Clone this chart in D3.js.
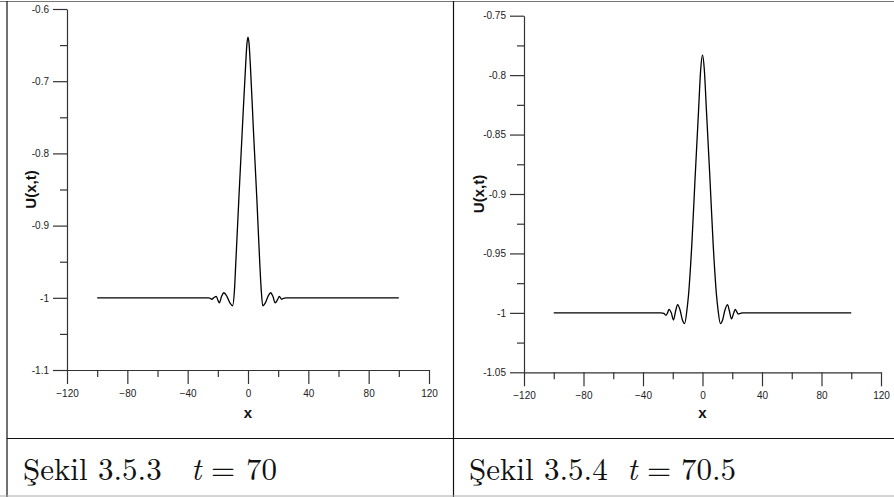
<!DOCTYPE html>
<html><head><meta charset="utf-8">
<script src="https://cdn.jsdelivr.net/npm/d3@7"></script>
<style>
html,body{margin:0;padding:0;background:#fff;}
svg{display:block;}
.tick text{font-family:"Liberation Sans",Arial,sans-serif;font-size:10px;fill:#222;}
</style></head>
<body>
<svg id="c" width="894" height="497"></svg>
<script>
// ---- data ----
const xTickMajor = [-120, -80, -40, 0, 40, 80, 120];
const xTickMinor = [-100, -60, -20, 20, 60, 100];

const leftYMajor = [-0.6, -0.7, -0.8, -0.9, -1, -1.1];
const leftYMinor = [-0.65, -0.75, -0.85, -0.95, -1.05];
const leftYLabels = ["-0.6", "-0.7", "-0.8", "-0.9", "-1", "-1.1"];

const rightYMajor = [-0.75, -0.8, -0.85, -0.9, -0.95, -1, -1.05];
const rightYMinor = [-0.775, -0.825, -0.875, -0.925, -0.975, -1.025];
const rightYLabels = ["-0.75", "-0.8", "-0.85", "-0.9", "-0.95", "-1", "-1.05"];

// t = 70
const leftX = [-100, -30, -26, -25, -24, -22.5, -21, -20, -19, -17.5, -16, -14, -12, -10.2, -9, -8.1, -6, -3.8, -1.5, -0.7, 0, 0.7, 1.5, 3.6, 5.8, 7.8, 8.8, 9.8, 11.5, 13.5, 15, 16.5, 18, 19.5, 20.8, 22.2, 23.5, 25, 100];
const leftU = [-1, -1, -1, -1.0008, -1.002, -0.9995, -0.998, -1.003, -1.007, -0.998, -0.993, -0.998, -1.007, -1.011, -0.99, -0.952, -0.86, -0.768, -0.675, -0.648, -0.639, -0.648, -0.675, -0.768, -0.86, -0.952, -0.99, -1.011, -1.007, -0.997, -0.993, -0.998, -1.007, -1.003, -0.998, -1.002, -1.0008, -1, -1];

// t = 70.5
const rightX = [-100, -28, -26, -24.5, -23.5, -22.5, -21, -19.5, -18, -16.7, -15, -13.5, -12, -10.5, -9.4, -7.2, -5, -2.7, -1.2, 0, 1.2, 2.7, 5, 7.2, 9.4, 10.5, 12, 13.5, 15, 16.8, 18, 19.5, 21, 22, 23, 24, 25.5, 27, 100];
const rightU = [-1, -1, -1.0005, -1.002, -1.0, -0.997, -1.0, -1.006, -0.998, -0.993, -0.998, -1.006, -1.009, -0.998, -0.985, -0.943, -0.887, -0.831, -0.795, -0.783, -0.795, -0.831, -0.887, -0.943, -0.985, -0.998, -1.009, -1.006, -0.998, -0.993, -0.998, -1.005, -1.0, -0.997, -0.999, -1.001, -1.0005, -1, -1];

const svg = d3.select("#c");

// ---- frame ----
const frame = svg.append("g").attr("stroke-width", 1.2).attr("fill", "none");
frame.append("line").attr("x1", 0).attr("x2", 894).attr("y1", 1.5).attr("y2", 1.5).attr("stroke", "#777");
frame.append("line").attr("x1", 7).attr("x2", 7).attr("y1", 1).attr("y2", 497).attr("stroke", "#111");
frame.append("line").attr("x1", 453.5).attr("x2", 453.5).attr("y1", 1).attr("y2", 497).attr("stroke", "#111");
frame.append("line").attr("x1", 7).attr("x2", 894).attr("y1", 438.5).attr("y2", 438.5).attr("stroke", "#111");
frame.append("line").attr("x1", 0).attr("x2", 894).attr("y1", 496).attr("y2", 496).attr("stroke", "#aaa");

function panel(cfg) {
  const g = svg.append("g");
  const x = d3.scaleLinear().domain([-120, 120]).range([cfg.x0, cfg.x1]);
  const y = d3.scaleLinear().domain(cfg.yDomain).range([cfg.yBottom, cfg.yTop]);

  // minor ticks
  g.append("g").attr("transform", `translate(0,${cfg.yBottom})`)
    .call(d3.axisBottom(x).tickValues(xTickMinor).tickSize(7).tickSizeOuter(0).tickFormat(""))
    .call(s => s.select(".domain").remove());
  g.append("g").attr("transform", `translate(${cfg.x0},0)`)
    .call(d3.axisLeft(y).tickValues(cfg.yMinor).tickSize(7).tickSizeOuter(0).tickFormat(""))
    .call(s => s.select(".domain").remove());
  // major
  g.append("g").attr("transform", `translate(0,${cfg.yBottom})`)
    .call(d3.axisBottom(x).tickValues(xTickMajor).tickSize(14).tickSizeOuter(0).tickPadding(6));
  g.append("g").attr("transform", `translate(${cfg.x0},0)`)
    .call(d3.axisLeft(y).tickValues(cfg.yMajor).tickSize(14).tickSizeOuter(0).tickPadding(4)
      .tickFormat((d, i) => cfg.yLabels[i]));
  g.selectAll(".domain, .tick line").attr("stroke", "#333").attr("stroke-width", 1.2);

  // curve
  const pts = cfg.xs.map((v, i) => [v, cfg.us[i]]);
  const line = d3.line().x(d => x(d[0])).y(d => y(d[1])).curve(d3.curveMonotoneX);
  g.append("path").datum(pts)
    .attr("fill", "none").attr("stroke", "#000").attr("stroke-width", 1.3)
    .attr("d", line);

  // labels
  const sans = "'Liberation Sans', Arial, sans-serif";
  g.append("text").attr("x", (cfg.x0 + cfg.x1) / 2).attr("y", 418)
    .attr("text-anchor", "middle").style("font-family", sans).style("font-weight", "bold")
    .style("font-size", "15px").attr("fill", "#111").text("x");
  g.append("text")
    .attr("transform", `translate(${cfg.yLabX},${(cfg.yTop + cfg.yBottom) / 2}) rotate(-90)`)
    .attr("text-anchor", "middle").attr("dy", "0.35em").style("font-family", sans)
    .style("font-weight", "bold").style("font-size", "15px").attr("fill", "#111").text("U(x,t)");

  // caption
  const cap = g.append("text").attr("y", 480)
    .style("font-family", "'Latin Modern Roman', 'Liberation Serif', serif")
    .style("font-size", "31px").attr("fill", "#111");
  cap.append("tspan").attr("x", cfg.capX).text(cfg.capFig);
  cap.append("tspan").attr("x", cfg.capT).style("font-style", "italic").text("t");
  cap.append("tspan").attr("x", cfg.capEq).text("=");
  cap.append("tspan").attr("x", cfg.capV).text(cfg.capVal);
}

panel({x0: 67, x1: 429, yTop: 9, yBottom: 370, yDomain: [-1.1, -0.6],
  yMajor: leftYMajor, yMinor: leftYMinor, yLabels: leftYLabels, xs: leftX, us: leftU,
  yLabX: 31, capX: 23, capT: 191, capEq: 211, capV: 246, capFig: "Şekil 3.5.3", capVal: "70"});
panel({x0: 524, x1: 881, yTop: 15.7, yBottom: 372.3, yDomain: [-1.05, -0.75],
  yMajor: rightYMajor, yMinor: rightYMinor, yLabels: rightYLabels, xs: rightX, us: rightU,
  yLabX: 479, capX: 469, capT: 627, capEq: 647, capV: 681, capFig: "Şekil 3.5.4", capVal: "70.5"});
</script>
</body></html>
